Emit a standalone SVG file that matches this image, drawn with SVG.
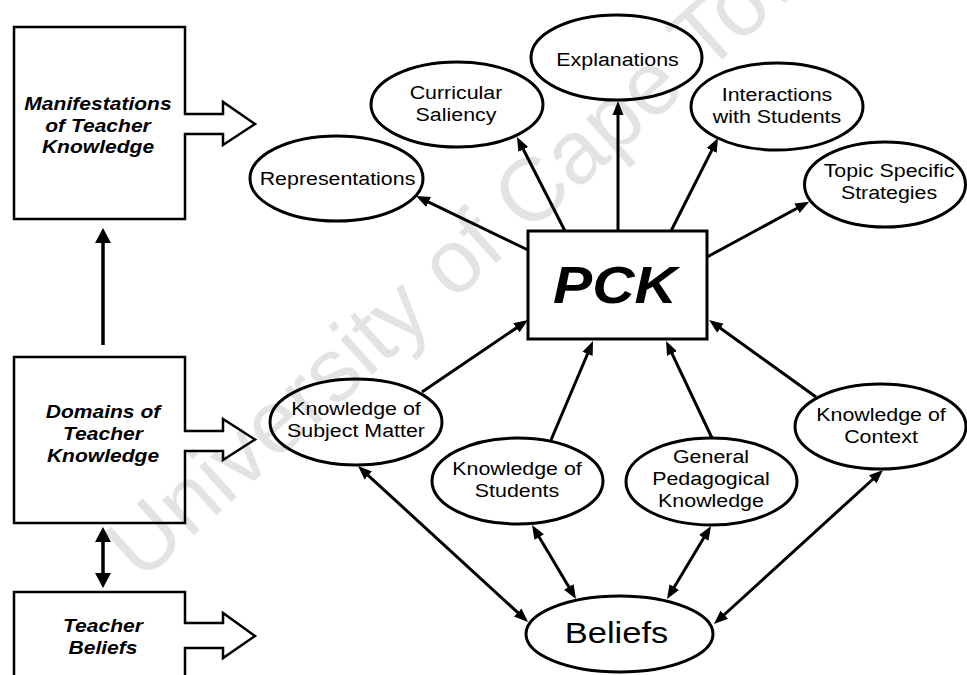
<svg xmlns="http://www.w3.org/2000/svg" width="967" height="675" viewBox="0 0 967 675">
<defs>
<style>
.frame{fill:#fff;stroke:#000;stroke-width:2.5;stroke-linejoin:miter}
.node ellipse{fill:#fff;stroke:#000;stroke-width:3}
.node rect{fill:#fff;stroke:#000;stroke-width:3}
.lbl{font-family:"Liberation Sans",Arial,sans-serif;font-size:18.6px;text-anchor:middle;fill:#000}
.dom{font-family:"Liberation Sans",Arial,sans-serif;font-size:18.3px;font-weight:bold;font-style:italic;text-anchor:middle;fill:#000}
.big{font-family:"Liberation Sans",Arial,sans-serif;font-size:30px;text-anchor:middle;fill:#000}
.pck{font-family:"Liberation Sans",Arial,sans-serif;font-size:51px;font-weight:bold;font-style:italic;text-anchor:middle;fill:#000}
.conn line{stroke:#000;stroke-width:3;fill:none}
.conn .thick{stroke-width:3.5}
.watermark{font-family:"Liberation Sans",Arial,sans-serif;font-size:90px;fill:#000;fill-opacity:0.11}
</style>
<marker id="head" markerUnits="userSpaceOnUse" markerWidth="14" markerHeight="12" refX="8" refY="6" orient="auto-start-reverse">
<path d="M0,0.5 L14,6 L0,11.5 Z" fill="#000"/>
</marker>
<marker id="headL" markerUnits="userSpaceOnUse" markerWidth="15" markerHeight="16" refX="9" refY="8" orient="auto-start-reverse">
<path d="M0,0 L15,8 L0,16 Z" fill="#000"/>
</marker>
</defs>

<rect width="967" height="675" fill="#fff"/>

<!-- left column: framework boxes with block arrows -->
<g id="manifestations">
<path class="frame" d="M14,27 H185 V114 H223 V102 L255,124 L223,145 V134 H185 V219 H14 Z"/>
<text class="dom" transform="matrix(1.15 0 0 1 98 0)"><tspan x="0" y="110.5">Manifestations</tspan><tspan x="0" y="132">of Teacher</tspan><tspan x="0" y="153.5">Knowledge</tspan></text>
</g>
<g id="domains">
<path class="frame" d="M14,357 H185 V431 H223 V419 L255,439.5 L223,460 V451 H185 V523 H14 Z"/>
<text class="dom" transform="matrix(1.15 0 0 1 103 0)"><tspan x="0" y="418">Domains of</tspan><tspan x="0" y="440">Teacher</tspan><tspan x="0" y="462">Knowledge</tspan></text>
</g>
<g id="teacher-beliefs">
<path class="frame" d="M14,680 V592 H185 V623 H223 V613 L255,636 L223,658 V648 H185 V680"/>
<text class="dom" transform="matrix(1.15 0 0 1 103 0)"><tspan x="0" y="632">Teacher</tspan><tspan x="0" y="654">Beliefs</tspan></text>
</g>

<!-- connectors -->
<g id="connectors" class="conn">
<line class="thick" x1="103" y1="345" x2="103" y2="234" marker-end="url(#headL)"/>
<line class="thick" x1="103" y1="533" x2="103" y2="582" marker-start="url(#headL)" marker-end="url(#headL)"/>
<!-- PCK to its manifestations -->
<line x1="528" y1="250" x2="421.4" y2="198.6" marker-end="url(#head)"/>
<line x1="565" y1="231" x2="519.7" y2="142.3" marker-end="url(#head)"/>
<line x1="618" y1="231" x2="618" y2="107" marker-end="url(#head)"/>
<line x1="671" y1="231" x2="715.3" y2="143.4" marker-end="url(#head)"/>
<line x1="707" y1="257" x2="804" y2="204.5" marker-end="url(#head)"/>
<!-- knowledge domains feeding PCK -->
<line x1="422" y1="392" x2="523" y2="323.4" marker-end="url(#head)"/>
<line x1="551" y1="440" x2="590.7" y2="346.5" marker-end="url(#head)"/>
<line x1="712" y1="438" x2="668.6" y2="346.4" marker-end="url(#head)"/>
<line x1="816" y1="397" x2="713.9" y2="323.5" marker-end="url(#head)"/>
<!-- domains and beliefs -->
<line x1="362.4" y1="470.1" x2="523.6" y2="617.9" marker-start="url(#head)" marker-end="url(#head)"/>
<line x1="535.1" y1="530.2" x2="572.9" y2="593.8" marker-start="url(#head)" marker-end="url(#head)"/>
<line x1="707.9" y1="531.1" x2="670.1" y2="593.9" marker-start="url(#head)" marker-end="url(#head)"/>
<line x1="878.6" y1="474" x2="718.4" y2="620" marker-start="url(#head)" marker-end="url(#head)"/>
</g>

<!-- central construct -->
<g id="pck" class="node">
<rect x="528" y="231" width="179" height="108"/>
<text class="pck" transform="matrix(1.15 0 0 1 615 0)" x="0" y="303">PCK</text>
</g>

<!-- manifestations of PCK -->
<g id="representations" class="node">
<ellipse cx="336.5" cy="178.5" rx="86.5" ry="42.5"/>
<text class="lbl" transform="matrix(1.15 0 0 1 337.5 0)" x="0" y="185">Representations</text>
</g>
<g id="curricular-saliency" class="node">
<ellipse cx="457" cy="104.5" rx="86" ry="42.5"/>
<text class="lbl" transform="matrix(1.15 0 0 1 456 0)"><tspan x="0" y="99.5">Curricular</tspan><tspan x="0" y="121">Saliency</tspan></text>
</g>
<g id="explanations" class="node">
<ellipse cx="616.5" cy="57.5" rx="85.5" ry="42.5"/>
<text class="lbl" transform="matrix(1.15 0 0 1 617.5 0)" x="0" y="66">Explanations</text>
</g>
<g id="interactions" class="node">
<ellipse cx="777" cy="106.5" rx="86" ry="43.5"/>
<text class="lbl" transform="matrix(1.15 0 0 1 777 0)"><tspan x="0" y="101">Interactions</tspan><tspan x="0" y="123">with Students</tspan></text>
</g>
<g id="topic-strategies" class="node">
<ellipse cx="885" cy="184.5" rx="80.5" ry="42.5"/>
<text class="lbl" transform="matrix(1.15 0 0 1 889 0)"><tspan x="0" y="177">Topic Specific</tspan><tspan x="0" y="199">Strategies</tspan></text>
</g>

<!-- knowledge domains -->
<g id="subject-matter" class="node">
<ellipse cx="356" cy="422" rx="86" ry="43"/>
<text class="lbl" transform="matrix(1.15 0 0 1 356 0)"><tspan x="0" y="415">Knowledge of</tspan><tspan x="0" y="437">Subject Matter</tspan></text>
</g>
<g id="students" class="node">
<ellipse cx="517.5" cy="481" rx="85.5" ry="43"/>
<text class="lbl" transform="matrix(1.15 0 0 1 517 0)"><tspan x="0" y="475">Knowledge of</tspan><tspan x="0" y="497">Students</tspan></text>
</g>
<g id="pedagogical" class="node">
<ellipse cx="711.5" cy="481.5" rx="85.5" ry="43.5"/>
<text class="lbl" transform="matrix(1.15 0 0 1 711 0)"><tspan x="0" y="463">General</tspan><tspan x="0" y="485">Pedagogical</tspan><tspan x="0" y="507">Knowledge</tspan></text>
</g>
<g id="context" class="node">
<ellipse cx="880.5" cy="426.5" rx="85.5" ry="42.5"/>
<text class="lbl" transform="matrix(1.15 0 0 1 881 0)"><tspan x="0" y="421">Knowledge of</tspan><tspan x="0" y="443">Context</tspan></text>
</g>
<g id="beliefs" class="node">
<ellipse cx="619.5" cy="634" rx="93.5" ry="38"/>
<text class="big" transform="matrix(1.15 0 0 1 616.5 0)" x="0" y="643">Beliefs</text>
</g>

<!-- institutional watermark laid over the figure -->
<text class="watermark" transform="translate(141 583) rotate(-42)">University of Cape Town</text>
</svg>
